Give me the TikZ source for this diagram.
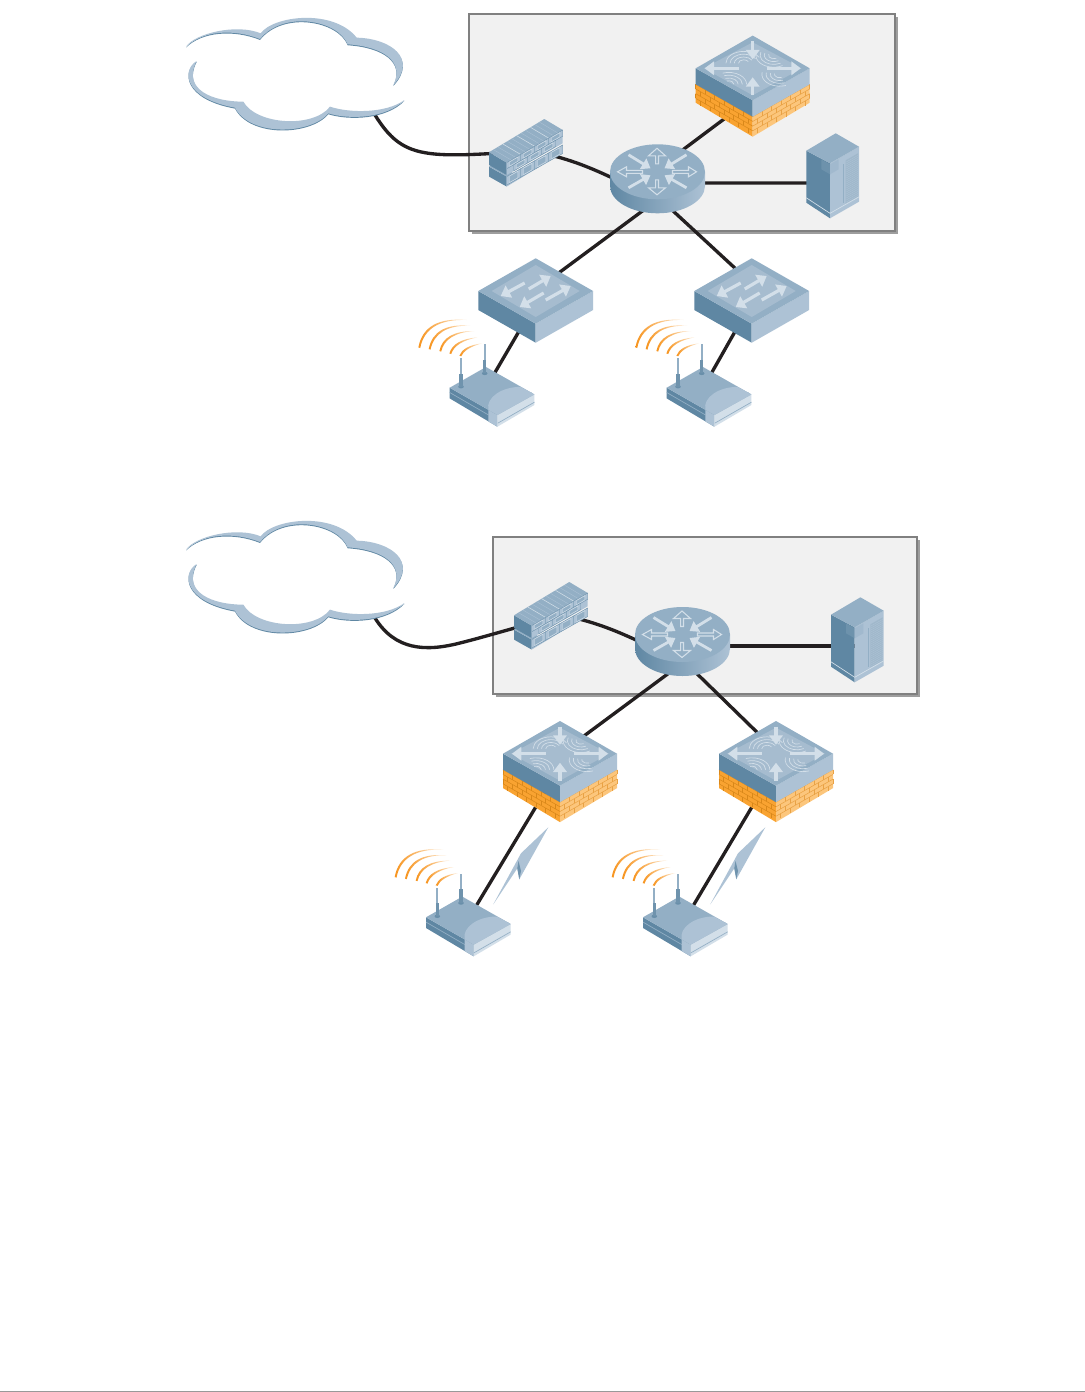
\documentclass[tikz,border=0pt]{standalone}
\usetikzlibrary{calc,arrows.meta}
\definecolor{cTop}{HTML}{93AFC5}
\definecolor{cDark}{HTML}{5F87A3}
\definecolor{cLight}{HTML}{ADC2D5}
\definecolor{cInner}{HTML}{A6BCCF}
\definecolor{cPale}{HTML}{D3DFE9}
\definecolor{cWire}{HTML}{231F20}
\definecolor{cBrickL}{HTML}{F9A331}
\definecolor{cBrickR}{HTML}{FCC67C}
\definecolor{cMortL}{HTML}{D9881A}
\definecolor{cMortR}{HTML}{E9A245}
\definecolor{cWave}{HTML}{F7941E}
\definecolor{cPanel}{HTML}{F1F1F1}
\tikzset{
  hub/.style={inner sep=0pt,minimum size=1pt},
  wire/.style={draw=cWire,line width=2.5pt},
  panelbox/.style={draw=black!50,line width=0.9pt,fill=cPanel,inner sep=0pt},
  fatarrow/.style={draw=cPale,line width=2.4pt,-{Triangle[length=7pt,width=10pt]}},
  rtarrow/.style={draw=cPale,line width=2.1pt,-{Triangle[length=6.5pt,width=9pt]}},
  hollow/.style={draw=cPale,line width=0.8pt},
  wavelet/.style={draw=cPale,line width=0.5pt},
}
% ---- controller with brick base
\newcommand\brickface[1]{%
  \foreach \r in {0,...,3}{
    \draw[#1,line width=.4pt] (0,{\r*4.7}) -- (1,{\r*4.7});
    \foreach \k in {0,...,5}{
      \draw[#1,line width=.4pt] ({(\k+0.5*mod(\r,2))/6},{\r*4.7}) -- ++(0,4.7);
    }
  }}
\newcommand\ctlicon[1]{\begin{scope}[shift={#1}]
  \fill[cBrickL] (-57,16)--(0,48.4)--(0,68.4)--(-57,34.4)--cycle;
  \fill[cBrickR] (57,16)--(0,48.4)--(0,68.4)--(57,34.4)--cycle;
  \begin{scope}[shift={(-57,16)},x={(57,32.4)},y={(0,1)}]\brickface{cMortL}\end{scope}
  \begin{scope}[shift={(57,16)},x={(-57,32.4)},y={(0,1)}]\brickface{cMortR}\end{scope}
  \fill[cDark] (-57,0)--(0,32)--(0,48.4)--(-57,16)--cycle;
  \fill[cLight] (57,0)--(0,32)--(0,48.4)--(57,16)--cycle;
  \fill[cTop] (0,-32.7)--(-57,0)--(0,32)--(57,0)--cycle;
  \fill[cInner] (0,-26)--(-49,0)--(0,27)--(49,0)--cycle;
  \foreach \a in {5,9,13,17}{
    \draw[wavelet] ($(-9,-5)+(180:{\a*1.05} and {\a*.7})$) arc[start angle=180,end angle=330,x radius={\a*1.05},y radius={\a*.7}];
    \draw[wavelet] ($(21,-13)+(60:{\a*1.05} and {\a*.7})$) arc[start angle=60,end angle=200,x radius={\a*1.05},y radius={\a*.7}];
    \draw[wavelet] ($(-24,16)+(250:{\a*1.05} and {\a*.7})$) arc[start angle=250,end angle=360,x radius={\a*1.05},y radius={\a*.7}];
    \draw[wavelet] ($(27,6)+(70:{\a*1.05} and {\a*.7})$) arc[start angle=70,end angle=190,x radius={\a*1.05},y radius={\a*.7}];
  }
  \draw[fatarrow] (0,-27) -- (0,-9);
  \draw[fatarrow] (0,27) -- (0,9);
  \draw[fatarrow] (-14,0) -- (-48,0);
  \draw[fatarrow] (14,0) -- (48,0);
\end{scope}}
% ---- router
\newcommand\routericon[1]{\begin{scope}[shift={#1}]
  \shade[left color=cDark,right color=cLight]
    (-47.5,0) -- (-47.5,14) arc[start angle=180,end angle=0,x radius=47.5,y radius=27.5] -- (47.5,0) -- cycle;
  \fill[cTop] (0,0) ellipse[x radius=47.5,y radius=27.5];
  \draw[rtarrow] (-29,-17) -- (-7,-3.5);
  \draw[rtarrow] (29,-17) -- (7,-3.5);
  \draw[rtarrow] (-29,16) -- (-7,3.5);
  \draw[rtarrow] (29,16) -- (7,3.5);
  \draw[hollow] (-1.8,-8)--(-1.8,-16)--(-9,-16)--(-.5,-23.5)--(8,-16)--(1,-16)--(1,-8)--cycle;
  \draw[hollow] (-1.8,8)--(-1.8,16)--(-9,16)--(-.5,23)--(8,16)--(1,16)--(1,8)--cycle;
  \draw[hollow] (-15,-1.5)--(-31,-1.5)--(-31,-5)--(-40,0)--(-31,5)--(-31,1.5)--(-15,1.5)--cycle;
  \draw[hollow] (15,-1.5)--(31,-1.5)--(31,-5)--(39,0)--(31,5)--(31,1.5)--(15,1.5)--cycle;
\end{scope}}
% ---- switch
\newcommand\switchicon[1]{\begin{scope}[shift={#1}]
  \fill[cDark] (-57.4,0)--(0,32.7)--(0,51.7)--(-57.4,19)--cycle;
  \fill[cLight] (57.4,0)--(0,32.7)--(0,51.7)--(57.4,19)--cycle;
  \fill[cTop] (0,-32.7)--(-57.4,0)--(0,32.7)--(57.4,0)--cycle;
  \fill[cInner] (0,-26)--(-44,0)--(0,26)--(44,0)--cycle;
  \draw[fatarrow] (-7,-2) -- (15,-15);
  \draw[fatarrow] (10,9) -- (35,-5);
  \draw[fatarrow] (-11,-8) -- (-35,5);
  \draw[fatarrow] (8,2) -- (-16,16);
\end{scope}}
% ---- server cabinet
\newcommand\servericon[1]{\begin{scope}[shift={#1}]
  \fill[cDark] (-29.4,17.4)--(-5.7,30)--(-5.7,85)--(-29.4,69.4)--cycle;
  \fill[cLight] (-5.7,30)--(23.3,13.4)--(23.3,68.4)--(-5.7,85)--cycle;
  \fill[cTop] (0,0)--(-29.4,17.4)--(-5.7,30)--(23.3,13.4)--cycle;
  \fill[cDark!82!cLight] (-14.4,26)--(-5.7,31)--(-5.7,41)--(-14.4,36)--cycle;
  \fill[cLight!85!cDark] (-5.7,31)--(3,26)--(3,36)--(-5.7,41)--cycle;
  \fill[cInner!92!cDark] (10,27)--(22.3,20)--(22.3,63.5)--(10,70)--cycle;
  \foreach \v in {2,4,...,42}{\draw[cLight,line width=.3pt] (10,{27+\v})--(22.3,{20+\v});}
  \draw[cTop,line width=1pt] (8,31)--(8,70);
  \draw[cPale,line width=.5pt] (-29.4,64.5)--(-5.7,80)--(23.3,63.5);
\end{scope}}
% ---- brick firewall
\newcommand\fwbrick[3]{\filldraw[fill=cLight,draw=cDark!70!cTop,line width=.3pt] ({#1},#2) -- ({#1+.25},#2) -- ({#1+.25},#3) -- ({#1},#3) -- cycle;
  \filldraw[fill=cTop,draw=cPale,line width=.35pt] ({#1+.05},{#2+1}) -- ({#1+.2},{#2+1}) -- ({#1+.2},{#3-1}) -- ({#1+.05},{#3-1}) -- cycle;}
\newcommand\fwicon[1]{\begin{scope}[shift={#1}]
  \fill[cDark] (0,14.3)--(17.7,24.3)--(17.7,34.3)--(0,24.3)--cycle;
  \fill[cLight] (17.7,24.3)--(73.7,-7.3)--(73.7,.3)--(17.7,34.3)--cycle;
  \fill[cTop] (0,14.3)--(6,11)--(24,20.7)--(17.7,24.3)--cycle;
  \begin{scope}[shift={(17.7,24.3)},x={(56,-31.6)},y={(0,1)}]
    \foreach \k in {0,1,2,3}{\fwbrick{\k*.25}{0}{8.5}}
  \end{scope}
  \fill[cDark] (0,0)--(17.7,10.3)--(17.7,22.7)--(0,12.7)--cycle;
  \fill[cLight] (17.7,10.3)--(73.7,-22.3)--(73.7,-9)--(17.7,22.7)--cycle;
  \fill[cTop] (0,0)--(55.3,-33.3)--(73.7,-22.3)--(17.7,10.3)--cycle;
  \foreach \t in {.25,.5,.75}{\draw[cPale,line width=.4pt] ({55.3*\t},{-33.3*\t}) -- ({17.7+56*\t},{10.3-32.6*\t});}
  \foreach \t in {.08,.16,.33,.41,.58,.66,.83,.91}{\draw[cLight,line width=.25pt] ({55.3*\t},{-33.3*\t}) -- ({17.7+56*\t},{10.3-32.6*\t});}
  \begin{scope}[shift={(17.7,10.3)},x={(56,-32.6)},y={(0,1)}]
    \foreach \k in {0,1,2,3}{\fwbrick{\k*.25}{0}{6.2}}
    \foreach \k in {0,1,2}{\fwbrick{\k*.25+.125}{6.2}{12.4}}
  \end{scope}
\end{scope}}
% ---- access point
\newcommand\wavearc[6]{\shade[left color=cWave,right color=cWave!18]
  (#1,#2) .. controls ({(#1)+2/3*((#3)-(#1))},{(#2)+2/3*((#4)-(#2))}) and ({(#5)+2/3*((#3)-(#5))},{(#6)+2/3*((#4)-(#6))}) .. (#5,#6)
  .. controls ({(#5)+2/3*((#3)+1.8-(#5))},{(#6)+2/3*((#4)+2.2-(#6))}) and ({(#1)+1.8+2/3*((#3)-(#1))},{(#2)+.6+2/3*((#4)+1.6-(#2))}) .. ({(#1)+1.8},{(#2)+.6}) -- cycle;}
\newcommand\apicon[1]{\begin{scope}[shift={#1}]
  \wavearc{-31.3}{-40.3}{-25.5}{-71.3}{17}{-67.7}
  \wavearc{-21}{-38.7}{-15.7}{-65}{20.3}{-62}
  \wavearc{-10.3}{-36.7}{-6.3}{-56.7}{24.3}{-56.7}
  \wavearc{-.3}{-34.3}{3.7}{-48.3}{27.7}{-50.3}
  \wavearc{9.7}{-32}{13.2}{-41.8}{32}{-44.3}
  \fill[cDark] (0,0)--(47.7,27.3)--(47.7,39)--(0,10.7)--cycle;
  \draw[cTop,line width=.5pt] (0,4.8)--(38.7,27.2);
  \fill[cLight] (38.7,22)--(47.7,27.3)--(47.7,39)--(38.7,33.8)--cycle;
  \fill[cPale] (47.7,27.3)--(84.7,6.7)--(84.7,17.3)--(47.7,39)--cycle;
  \draw[cTop,line width=.5pt] (48,35.5)--(84.7,14.5);
  \fill[cDark] (76,8)--(82,4.7)--(82,6.3)--(76,9.6)--cycle;
  \fill[cTop] (0,0)--(36.3,-20.7)--(84.7,6.7)--(47.7,27.3)--cycle;
  \fill[cLight] (38.7,22) .. controls (36,10) and (52,-1) .. (71,-.8) -- (84.7,6.7) -- (47.7,27.3) -- cycle;
  \fill[cDark!80!cTop] (11.3,-1) ellipse[x radius=2.8,y radius=1.7];
  \fill[cDark!80!cTop] (35,-14.3) ellipse[x radius=2.8,y radius=1.7];
  \draw[cDark!70!cTop,line width=2.4pt] (11.3,-1)--(11.3,-14);
  \draw[cTop,line width=1.6pt] (11.3,-14)--(11.3,-29.3);
  \draw[cDark!70!cTop,line width=2.4pt] (35,-14.3)--(35,-28);
  \draw[cTop,line width=1.6pt] (35,-28)--(35,-43.3);
\end{scope}}
% ---- cloud (two crescents around a white interior)
\newcommand\cloudupper{(48,125) .. controls (75,85) and (200,55) .. (272,85)
  .. controls (310,32) and (490,10) .. (560,98)
  .. controls (660,100) and (745,160) .. (670,240)
  .. controls (705,170) and (640,125) .. (533,118)
  .. controls (505,45) and (340,15) .. (270,102)
  .. controls (190,70) and (95,78) .. (48,125) -- cycle}
\newcommand\cloudlower{(80,168) .. controls (35,195) and (40,280) .. (195,308)
  .. controls (240,395) and (420,390) .. (475,325)
  .. controls (540,345) and (650,340) .. (703,285)
  .. controls (650,325) and (540,325) .. (480,305)
  .. controls (430,370) and (260,360) .. (220,290)
  .. controls (130,290) and (35,255) .. (80,168) -- cycle}
\newcommand\cloudicon[1]{\begin{scope}[shift={#1},x=.25pt,y=-.25pt]
  \fill[cDark,yshift=-.7pt] \cloudupper;
  \fill[cDark,yshift=-.7pt] \cloudlower;
  \fill[cLight] \cloudupper;
  \fill[cLight] \cloudlower;
\end{scope}}
% ---- lightning
\newcommand\bolticon[1]{\begin{scope}[shift={#1}]
  \fill[cLight] (548.3,827.3)--(521,853.3)--(493.3,904.3)--(517.3,868.3)--(519.3,879.3)--cycle;
  \fill[cDark!80!cLight] (517.3,868.3)--(519.3,879.3)--(521,871)--(518.5,861)--cycle;
\end{scope}}
\begin{document}
\begin{tikzpicture}[x=.75pt,y=-.75pt]
\useasboundingbox (0,0) rectangle (1085,1392);
\fill[white] (0,0) rectangle (1085,1392);
\fill[black!40] (0,1391) rectangle (1085,1392);
% panels
\fill[black!38] (471.5,16.5) rectangle (898,233.5);
\node[panelbox,minimum width=319.5pt,minimum height=162.75pt] (panelA) at (682,122.5) {};
\fill[black!38] (495.5,539.5) rectangle (920,696.5);
\node[panelbox,minimum width=318pt,minimum height=117.75pt] (panelB) at (705,615.5) {};
% device anchors
\node[hub] (cloudA) at (295,72) {};
\node[hub] (fwA) at (526,152) {};
\node[hub] (rtA) at (657.5,171.8) {};
\node[hub] (ctlA) at (752.7,68.3) {};
\node[hub] (srvA) at (832,176) {};
\node[hub] (swA) at (535.7,291) {};
\node[hub] (swB) at (751.7,291) {};
\node[hub] (apA) at (492,396) {};
\node[hub] (apB) at (709,396) {};
\node[hub] (cloudB) at (295,575) {};
\node[hub] (fwB) at (551,615) {};
\node[hub] (rtB) at (682.5,634.5) {};
\node[hub] (srvB) at (856.7,640) {};
\node[hub] (ctlB) at (560,753.7) {};
\node[hub] (ctlC) at (776,753.7) {};
\node[hub] (apC) at (468.3,925.6) {};
\node[hub] (apD) at (685.3,925.6) {};
% connectors
\draw[wire] ($(cloudA)+(80,43)$) .. controls ($(cloudA)+(105,83)$) and ($(cloudA)+(125,86)$) .. ($(fwA)+(-26,1)$);
\draw[wire] ($(fwA)+(24,3)$) .. controls ($(fwA)+(49,9)$) and ($(rtA)+(-62,-2)$) .. ($(rtA)+(-37,10)$);
\draw[wire] ($(rtA)+(8,-9)$) -- ($(ctlA)+(-13,39)$);
\draw[wire] ($(rtA)+(40,11.2)$) -- ($(srvA)+(-2,7)$);
\draw[wire] ($(rtA)+(0,28)$) -- ($(swA)+(0,-1)$);
\draw[wire] ($(rtA)+(3.5,28)$) -- ($(swB)+(8,0)$);
\draw[wire] ($(swA)+(-10.7,30)$) -- ($(apA)+(-2,-15)$);
\draw[wire] ($(swB)+(-10.7,30)$) -- ($(apB)+(-2,-15)$);
\draw[wire] ($(cloudB)+(80,43)$) .. controls ($(cloudB)+(100,75)$) and ($(cloudB)+(130,77)$) .. ($(cloudB)+(165,68)$) .. controls ($(cloudB)+(185,63)$) and ($(fwB)+(-51,17)$) .. ($(fwB)+(-29,11)$);
\draw[wire] ($(fwB)+(24,3)$) .. controls ($(fwB)+(49,9)$) and ($(rtB)+(-62,-2)$) .. ($(rtB)+(-37,10)$);
\draw[wire] ($(rtB)+(40,11.5)$) -- ($(srvB)+(-2,6)$);
\draw[wire] ($(rtB)+(0,28.5)$) -- (ctlB);
\draw[wire] ($(rtB)+(3.5,28.5)$) -- ($(ctlC)+(3,0)$);
\draw[wire] ($(ctlB)+(-15,38)$) -- ($(apC)+(2,-10)$);
\draw[wire] ($(ctlC)+(-15,38)$) -- ($(apD)+(2,-10)$);
% icons
\cloudicon{(170,5)}
\cloudicon{(170,508)}
\fwicon{(489,152.3)}
\fwicon{(514,615.3)}
\routericon{(657.5,171.8)}
\routericon{(682.5,634.5)}
\ctlicon{(752.7,68.3)}
\ctlicon{(560,753.7)}
\ctlicon{(776,753.7)}
\servericon{(835.7,133.3)}
\servericon{(860.4,597.3)}
\switchicon{(535.7,291)}
\switchicon{(751.7,291)}
\apicon{(449.7,387.7)}
\apicon{(666.7,387.7)}
\apicon{(426,917.3)}
\apicon{(643,917.3)}
\bolticon{(0,0)}
\bolticon{(217,0)}
\end{tikzpicture}
\end{document}
